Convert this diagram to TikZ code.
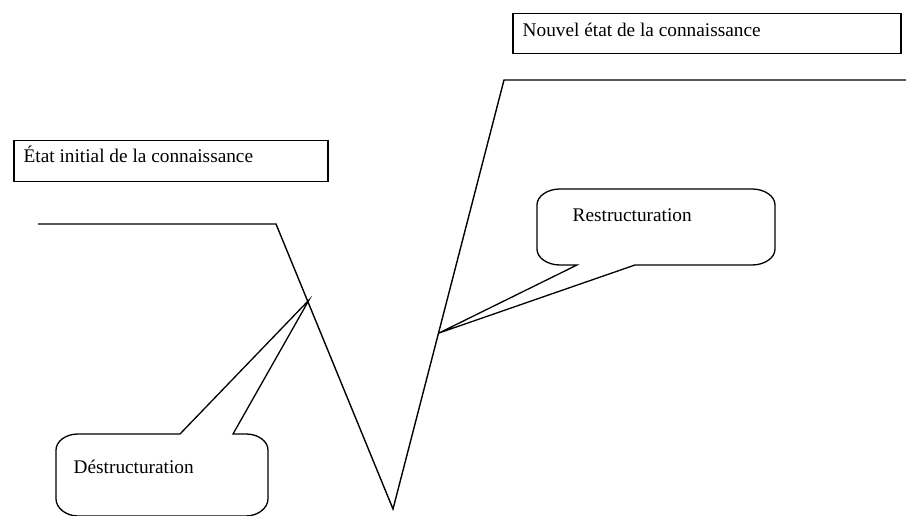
\documentclass[tikz,border=0pt]{standalone}
\usepackage{fontspec}
\setmainfont{Liberation Serif}
\begin{document}
\begin{tikzpicture}[x=1pt,y=-1pt,
  line width=1.4pt, line join=miter,
  txt/.style={anchor=base west, inner sep=0pt, font=\fontsize{19.3}{23}\selectfont},
  statebox/.style={draw, line width=1.5pt, anchor=north west, inner sep=0pt},
  bubble/.style={draw, line width=1.3pt, line join=miter}]
\useasboundingbox (0,0) rectangle (906,516);

% knowledge states
\node[statebox, minimum width=314pt, minimum height=41pt] (initbox) at (13,140) {};
\node[txt] (inittxt) at (23,163) {État initial de la connaissance};
\node[statebox, minimum width=388pt, minimum height=40pt] (newbox) at (512,13) {};
\node[txt] (newtxt) at (522,37) {Nouvel état de la connaissance};

% knowledge curve: plateau, drop, rise, new plateau
\coordinate (p0) at (38,224);
\coordinate (p1) at (276,224);
\coordinate (p2) at (393,509);
\coordinate (p3) at (504,80);
\coordinate (p4) at (906,80);
\draw (p0) -- (p1) -- (p2) -- (p3) -- (p4);

% callout tips on the curve
\coordinate (tipD) at (309,300);
\coordinate (tipR) at (439,333);

% callout: destructuration
\draw[bubble] (56,499) -- (56,450)
  .. controls (56,441.2) and (65.9,434) .. (78,434)
  -- (180,434) -- (tipD) -- (233,434) -- (246,434)
  .. controls (258.1,434) and (268,441.2) .. (268,450)
  -- (268,499)
  .. controls (268,507.8) and (258.1,516) .. (246,516)
  -- (78,516)
  .. controls (65.9,516) and (56,507.8) .. (56,499) -- cycle;
\node[txt] (destxt) at (73,473) {Déstructuration};

% callout: restructuration
\draw[bubble] (537,249) -- (537,205)
  .. controls (537,196.2) and (547.3,189) .. (560,189)
  -- (752,189)
  .. controls (764.7,189) and (775,196.2) .. (775,205)
  -- (775,249)
  .. controls (775,257.8) and (764.7,265) .. (752,265)
  -- (635,265) -- (tipR) -- (577,265) -- (560,265)
  .. controls (547.3,265) and (537,257.8) .. (537,249) -- cycle;
\node[txt] (restxt) at (572,222) {Restructuration};
\end{tikzpicture}
\end{document}
